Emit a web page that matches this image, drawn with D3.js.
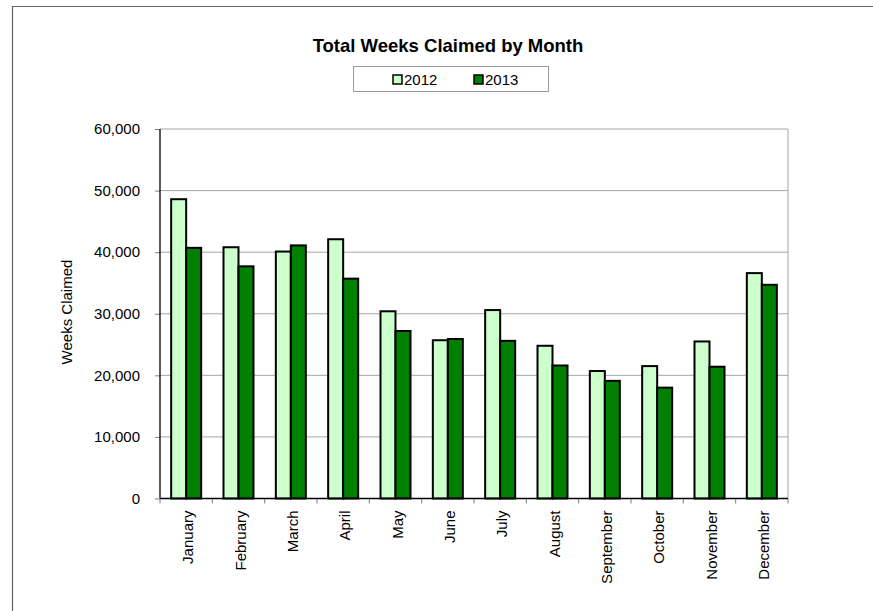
<!DOCTYPE html>
<html><head><meta charset="utf-8">
<script src="https://cdn.jsdelivr.net/npm/d3@7"></script>
<style>
body{margin:0;background:#fff;}
text{font-family:"Liberation Sans Narrow","Arial Narrow","Liberation Sans",Arial,sans-serif;}
</style></head><body>
<svg id="c" width="873" height="611"></svg>
<script>
const months = ["January","February","March","April","May","June","July","August","September","October","November","December"];
const series = ["2012","2013"];
const values2012 = [48600,40800,40100,42100,30400,25700,30600,24800,20700,21500,25500,36600];
const values2013 = [40700,37700,41100,35700,27200,25900,25600,21600,19100,18000,21400,34700];
const yTicks = [0,10000,20000,30000,40000,50000,60000];
const colors = ["#ccffcc","#008000"];

const svg = d3.select("#c");
const m = {left:160, right:788, top:129, bottom:498.5};

// outer border
svg.append("path").attr("d","M12.5,611 L12.5,6.5 L873,6.5").attr("fill","none").attr("stroke","#666").attr("stroke-width",1.2);

const x = d3.scaleBand().domain(months).range([m.left,m.right]).paddingInner(0).paddingOuter(0);
const y = d3.scaleLinear().domain([0,60000]).range([m.bottom,m.top]);
const bw = 15;

// gridlines
svg.append("g").selectAll("line").data(yTicks.filter(d=>d>0)).join("line")
  .attr("x1",m.left).attr("x2",m.right).attr("y1",d=>y(d)).attr("y2",d=>y(d))
  .attr("stroke","#a6a6a6").attr("stroke-width",1);
// right border of plot
svg.append("line").attr("x1",m.right).attr("x2",m.right).attr("y1",m.top).attr("y2",m.bottom).attr("stroke","#a6a6a6");

// bars
const data = months.map((mo,i)=>({mo, v:[values2012[i],values2013[i]]}));
const g = svg.append("g");
data.forEach(d=>{
  const cx = x(d.mo)+x.bandwidth()/2;
  d.v.forEach((v,j)=>{
    g.append("rect").attr("x",cx-bw+j*bw).attr("y",y(v)).attr("width",bw).attr("height",y(0)-y(v))
      .attr("fill",colors[j]).attr("stroke","#000").attr("stroke-width",2);
  });
});

// y axis
const yAxis = d3.axisLeft(y).tickValues(yTicks).tickFormat(d3.format(",")).tickSize(5).tickPadding(15);
const ya = svg.append("g").attr("transform",`translate(${m.left},0)`).call(yAxis);
ya.select(".domain").remove();
ya.selectAll(".tick line").attr("stroke","#808080");
ya.selectAll("text").attr("font-size",15).attr("fill","#000");
svg.append("line").attr("x1",m.left).attr("x2",m.left).attr("y1",m.top).attr("y2",m.bottom).attr("stroke","#000").attr("stroke-width",1.3);

// x axis
const boundaries = d3.range(months.length+1).map(i=>m.left+i*x.bandwidth());
svg.append("g").selectAll("line").data(boundaries).join("line")
  .attr("x1",d=>d).attr("x2",d=>d).attr("y1",m.bottom).attr("y2",m.bottom+5).attr("stroke","#808080");
svg.append("line").attr("x1",m.left).attr("x2",m.right).attr("y1",m.bottom).attr("y2",m.bottom).attr("stroke","#000").attr("stroke-width",1.3);
svg.append("g").selectAll("text").data(months).join("text")
  .attr("transform",d=>`translate(${x(d)+x.bandwidth()/2+2},${m.bottom+12}) rotate(-90)`)
  .attr("text-anchor","end").attr("dy","0.35em").attr("font-size",15).text(d=>d);

// y title
svg.append("text").attr("transform","translate(67,312) rotate(-90)").attr("text-anchor","middle")
  .attr("dy","0.35em").attr("font-size",15).text("Weeks Claimed");

// title
svg.append("text").attr("x",448).attr("y",46).attr("text-anchor","middle").attr("dy","0.35em")
  .attr("font-size",18.5).attr("font-weight","bold").text("Total Weeks Claimed by Month");

// legend
svg.append("rect").attr("x",353.5).attr("y",66.5).attr("width",195).attr("height",25).attr("fill","#fff").attr("stroke","#999");
const lx = [393,474];
series.forEach((s,i)=>{
  svg.append("rect").attr("x",lx[i]).attr("y",75).attr("width",9).attr("height",9).attr("fill",colors[i]).attr("stroke","#000").attr("stroke-width",1.5);
  svg.append("text").attr("x",lx[i]+11).attr("y",79.5).attr("dy","0.35em").attr("font-size",15).text(s);
});
</script>
</body></html>
